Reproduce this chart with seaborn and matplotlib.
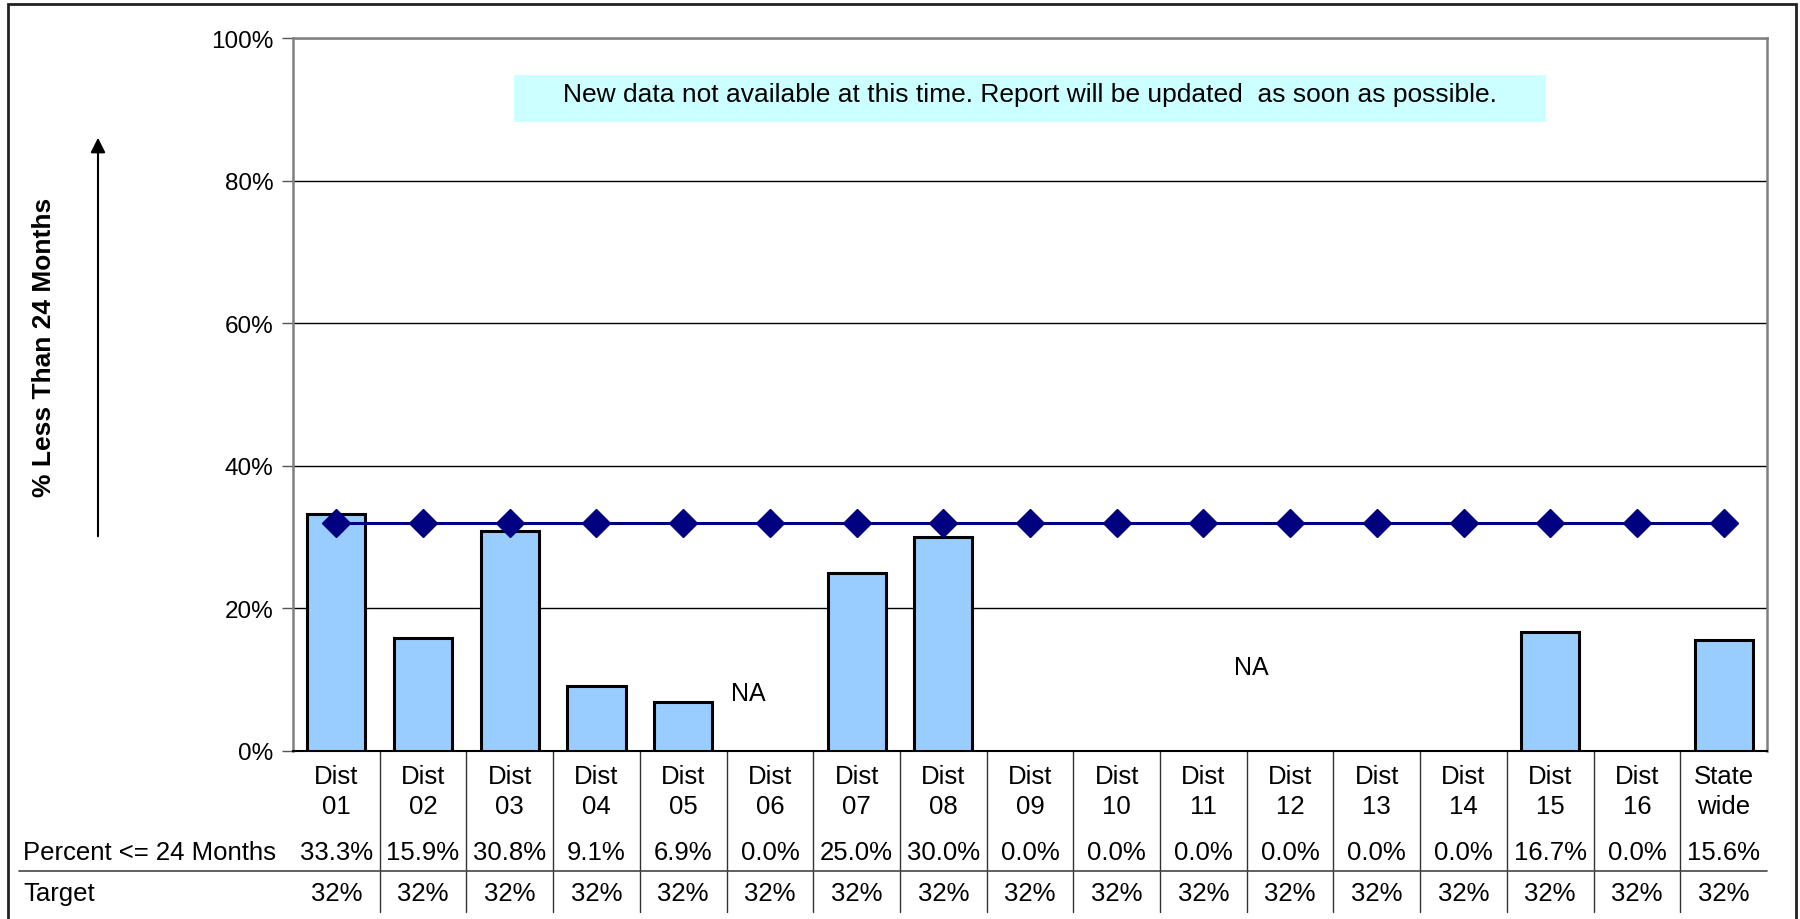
import numpy as np
import pandas as pd
import matplotlib
matplotlib.use("Agg")
import matplotlib.pyplot as plt
import matplotlib.transforms as mtransforms
from matplotlib.lines import Line2D
from matplotlib.patches import Rectangle
import seaborn as sns

# chart data
districts = ["Dist\n01", "Dist\n02", "Dist\n03", "Dist\n04", "Dist\n05", "Dist\n06",
             "Dist\n07", "Dist\n08", "Dist\n09", "Dist\n10", "Dist\n11", "Dist\n12",
             "Dist\n13", "Dist\n14", "Dist\n15", "Dist\n16", "State\nwide"]
pct_le_24 = [33.3, 15.9, 30.8, 9.1, 6.9, 0.0, 25.0, 30.0, 0.0, 0.0,
             0.0, 0.0, 0.0, 0.0, 16.7, 0.0, 15.6]
target = [32, 32, 32, 32, 32, 32, 32, 32, 32, 32, 32, 32, 32, 32, 32, 32, 32]
y_ticks = [0, 20, 40, 60, 80, 100]
notice = "New data not available at this time. Report will be updated  as soon as possible."

sns.set_style("white")
plt.rcParams["font.family"] = ["Liberation Sans", "DejaVu Sans"]
plt.rcParams["text.color"] = "black"
plt.rcParams["ytick.labelcolor"] = "black"

W, H = 1800, 920
fig = plt.figure(figsize=(18, 9.2), dpi=100)
ax = fig.add_axes([293 / W, 1 - 752 / H, (1767 - 293) / W, (752 - 39) / H])

# bars (zero values are NA in the source, no bar drawn)
df = pd.DataFrame({"District": districts,
                   "Percent": [v if v > 0 else np.nan for v in pct_le_24]})
sns.barplot(data=df, x="District", y="Percent", order=districts, color="#99CCFF",
            saturation=1, edgecolor="black", linewidth=2.2, width=0.67,
            errorbar=None, ax=ax, zorder=3)

# target line
ax.plot(range(len(districts)), target, color="#000080", lw=2.2, marker="D",
        markersize=14, zorder=5, clip_on=False)

ax.set_xlim(-0.5, len(districts) - 0.5)
ax.set_ylim(0, 100)
ax.set_yticks(y_ticks)
ax.set_yticklabels([f"{t}%" for t in y_ticks], fontsize=17.5)
ax.set_xticks([])
ax.set_xlabel("")
ax.set_ylabel("")
ax.yaxis.grid(True, color="black", lw=1)
ax.set_axisbelow(True)
ax.tick_params(axis="y", left=True, length=8, width=1, color="#555555", pad=6)
for side in ["left", "top", "right"]:
    ax.spines[side].set_color("#808080")
    ax.spines[side].set_linewidth(1.8)
ax.spines["bottom"].set_color("black")
ax.spines["bottom"].set_linewidth(1.5)

# notice box
ax.add_patch(Rectangle((2.05, 88.2), 11.9, 6.6, facecolor="#CCFFFF",
                       edgecolor="none", zorder=4))
ax.text(8.0, 92.1, notice, ha="center", va="center", fontsize=19, zorder=6)

# NA labels
ax.text(4.75, 8.1, "NA", ha="center", va="center", fontsize=18)
ax.text(10.55, 11.8, "NA", ha="center", va="center", fontsize=18)

# data table below the axis
trans = mtransforms.blended_transform_factory(ax.transData, fig.transFigure)
fs = 18.5
for i, name in enumerate(districts):
    ax.text(i, 1 - 792 / H, name, transform=trans, ha="center", va="center",
            fontsize=fs, linespacing=1.35)
    ax.text(i, 1 - 853 / H, f"{pct_le_24[i]:.1f}%", transform=trans,
            ha="center", va="center", fontsize=fs)
    ax.text(i, 1 - 894 / H, f"{target[i]}%", transform=trans,
            ha="center", va="center", fontsize=fs)
for k in range(len(districts) - 1):
    ax.add_line(Line2D([k + 0.5, k + 0.5], [1 - 752 / H, 1 - 913 / H],
                       transform=trans, color="#333333", lw=1, clip_on=False))
fig.add_artist(Line2D([19 / W, 1767 / W], [1 - 872 / H, 1 - 872 / H],
                      color="#444444", lw=1.2))
fig.text(23 / W, 1 - 853 / H, "Percent <= 24 Months", ha="left", va="center", fontsize=fs)
fig.text(23 / W, 1 - 894 / H, "Target", ha="left", va="center", fontsize=fs)

# y axis title and arrow
fig.text(44 / W, 1 - 347 / H, "% Less Than 24 Months", rotation=90, ha="center",
         va="center", fontsize=19, fontweight="bold")
ax.annotate("", xy=(98 / W, 1 - 136 / H), xytext=(98 / W, 1 - 540 / H),
            xycoords="figure fraction", textcoords="figure fraction",
            arrowprops=dict(arrowstyle="-|>", color="black", lw=1.5,
                            mutation_scale=22), annotation_clip=False)

# outer frame
fig.add_artist(Rectangle((8 / W, -0.05), (1796 - 8) / W, 1.05 - 5 / H,
                         transform=fig.transFigure, fill=False,
                         edgecolor="#222222", lw=2))

fig.savefig("out.png", dpi=100)
